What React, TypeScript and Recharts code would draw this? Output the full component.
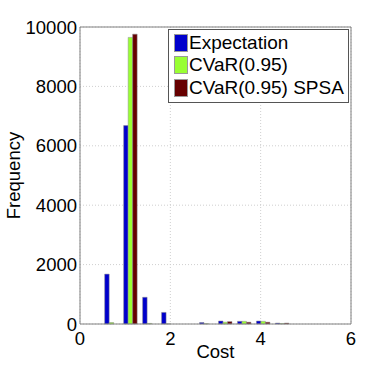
import {
  BarChart,
  Bar,
  CartesianGrid,
  XAxis,
  YAxis,
  ReferenceLine,
} from "recharts";

// bin centres of the histogram (cost)
const binCenters = [0.69, 1.11, 1.53, 1.95, 2.37, 2.79, 3.21, 3.63, 4.05, 4.47];
const expectation = [1680, 6680, 900, 390, 0, 50, 100, 90, 100, 30];
const cvar = [50, 9650, 20, 5, 0, 10, 60, 90, 90, 15];
const cvarSpsa = [0, 9760, 0, 0, 0, 0, 80, 60, 60, 30];

const xTicks = [0, 2, 4, 6];
const yTicks = [0, 2000, 4000, 6000, 8000, 10000];

const series = [
  { key: "expectation", name: "Expectation", color: "#0000cc" },
  { key: "cvar", name: "CVaR(0.95)", color: "#99ff33" },
  { key: "cvarSpsa", name: "CVaR(0.95) SPSA", color: "#660000" },
];

const data = binCenters.map((x, i) => ({
  x,
  expectation: expectation[i],
  cvar: cvar[i],
  cvarSpsa: cvarSpsa[i],
}));

const FONT = "'Liberation Sans', Arial, Helvetica, sans-serif";
const AXIS = "#808080";

// legend box drawn over the plot, top right
const CustomLegend = () => (
  <div
    style={{
      position: "absolute",
      top: 29,
      left: 168,
      border: "1px solid #555",
      background: "#fff",
      padding: "2px 3px 3px 5px",
      fontFamily: FONT,
      fontSize: 19,
      color: "#000",
      width: 181,
      boxSizing: "border-box",
    }}
  >
    {series.map((s) => (
      <div
        key={s.key}
        style={{ display: "flex", alignItems: "center", height: 22.3 }}
      >
        <div
          style={{
            width: 12,
            height: 16,
            background: s.color,
            border: "1px solid #999",
            marginRight: 1,
          }}
        />
        <span style={{ lineHeight: "22px", whiteSpace: "nowrap" }}>{s.name}</span>
      </div>
    ))}
  </div>
);

export default function App() {
  return (
    <div
      style={{
        position: "absolute",
        left: 0,
        top: 0,
        width: 388,
        height: 365,
        background: "#fff",
      }}
    >
      <BarChart
        width={388}
        height={365}
        data={data}
        margin={{ top: 27, right: 37, left: 20, bottom: 11 }}
        barGap={0}
        barSize={4.5}
      >
        <CartesianGrid stroke="#cfcfcf" strokeDasharray="1 2" />
        <XAxis
          dataKey="x"
          type="number"
          domain={[0, 6]}
          ticks={xTicks}
          height={30}
          stroke={AXIS}
          tickLine={false}
          tick={{ fill: "#000", fontSize: 18.5, fontFamily: FONT }}
          label={{
            content: (props: any) => {
              const vb = props.viewBox;
              return (
                <text
                  x={vb.x + vb.width / 2}
                  y={358}
                  textAnchor="middle"
                  fontSize={18.5}
                  fontFamily={FONT}
                  fill="#000"
                >
                  Cost
                </text>
              );
            },
          }}
        />
        <YAxis
          type="number"
          domain={[0, 10000]}
          ticks={yTicks}
          width={60}
          stroke={AXIS}
          tickLine={false}
          tickSize={1}
          tickMargin={2}
          tick={{ fill: "#000", fontSize: 18.5, fontFamily: FONT }}
          label={{
            content: (props: any) => {
              const vb = props.viewBox;
              const cy = vb.y + vb.height / 2;
              return (
                <text
                  x={20}
                  y={cy}
                  transform={`rotate(-90 20 ${cy})`}
                  textAnchor="middle"
                  fontSize={18.5}
                  fontFamily={FONT}
                  fill="#000"
                >
                  Frequency
                </text>
              );
            },
          }}
        />
        <ReferenceLine y={10000} stroke={AXIS} />
        <ReferenceLine x={6} stroke={AXIS} />
        {series.map((s) => (
          <Bar
            key={s.key}
            dataKey={s.key}
            name={s.name}
            fill={s.color}
            stroke="#8c8c8c"
            strokeWidth={0.5}
            isAnimationActive={false}
          />
        ))}
      </BarChart>
      <CustomLegend />
    </div>
  );
}
